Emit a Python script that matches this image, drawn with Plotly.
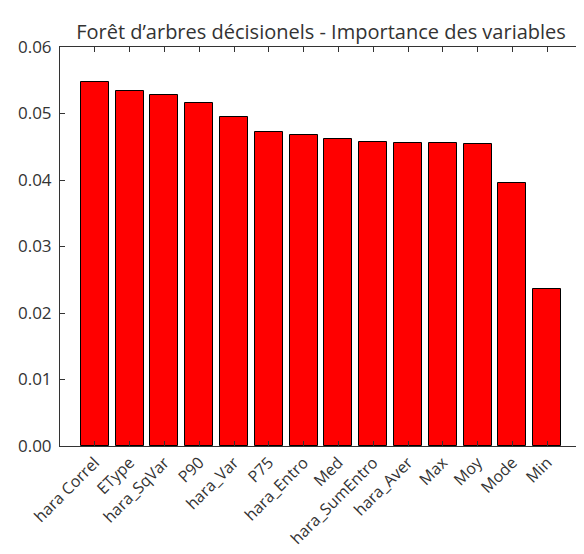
import plotly.graph_objects as go

categories = ["hara Correl", "EType", "hara_SqVar", "P90", "hara_Var", "P75",
              "hara_Entro", "Med", "hara_SumEntro", "hara_Aver", "Max", "Moy",
              "Mode", "Min"]
importances = [0.0548, 0.0534, 0.0528, 0.0516, 0.0494, 0.0472, 0.0467,
               0.0461, 0.0457, 0.0455, 0.0455, 0.0454, 0.0395, 0.0236]
y_ticks = [0.00, 0.01, 0.02, 0.03, 0.04, 0.05, 0.06]
y_tick_labels = ["0.00", "0.01", "0.02", "0.03", "0.04", "0.05", "0.06"]

positions = list(range(len(categories)))

fig = go.Figure(go.Bar(
    x=positions, y=importances, width=0.8,
    marker=dict(color="#ff0000", line=dict(color="#000000", width=1)),
))

font_family = "Open Sans, DejaVu Sans, sans-serif"
fig.update_layout(
    width=584, height=554,
    margin=dict(l=52, r=10, t=39, b=116, autoexpand=False),
    paper_bgcolor="white", plot_bgcolor="white",
    showlegend=False,
    font=dict(family=font_family, color="#333333", size=16),
    title=dict(text="Forêt d’arbres décisionels - Importance des variables",
               x=0.5, xref="paper", xanchor="center",
               y=1, yref="paper", yanchor="bottom", pad=dict(b=8),
               font=dict(size=20, color="#333333", family=font_family)),
    bargap=0,
)
fig.update_xaxes(
    range=[-1, len(categories)], tickmode="array", tickvals=positions,
    ticktext=categories, tickangle=-45, ticks="inside", ticklen=5,
    tickcolor="#333333", showline=True, linecolor="#333333", linewidth=1,
    mirror="ticks", showgrid=False, zeroline=False, automargin=False,
    tickfont=dict(size=16, color="#333333"),
)
fig.update_yaxes(
    range=[0, 0.06], tickmode="array", tickvals=y_ticks,
    ticktext=y_tick_labels, ticks="inside", ticklen=5, tickcolor="#333333",
    showline=True, linecolor="#333333", linewidth=1, mirror="ticks",
    showgrid=False, zeroline=False, automargin=False,
    tickfont=dict(size=17, color="#333333"), ticklabelstandoff=4,
)

fig.write_html("out.html", config={"responsive": False})
